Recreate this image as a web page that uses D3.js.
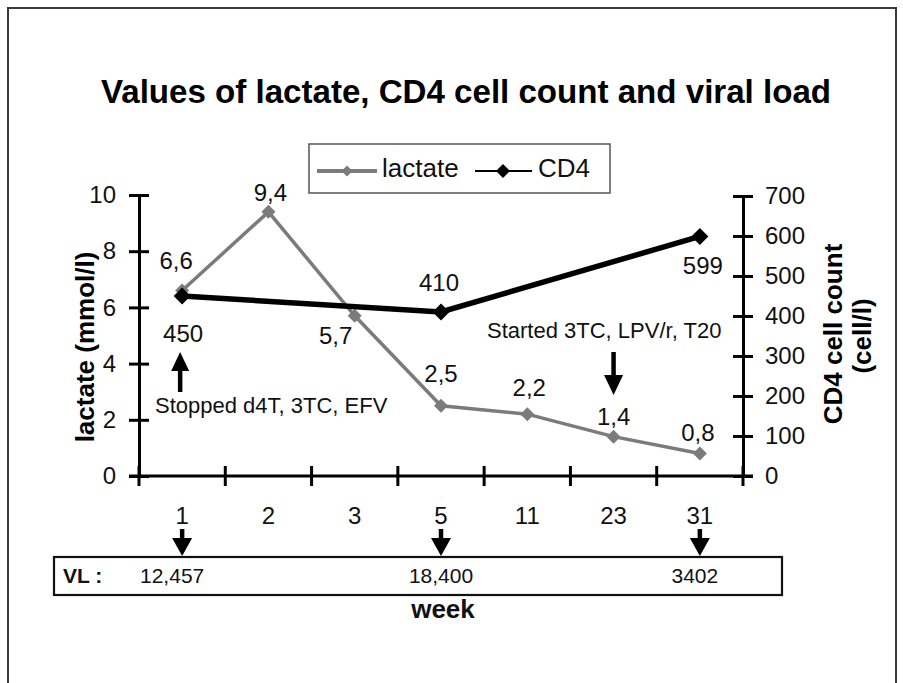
<!DOCTYPE html>
<html><head><meta charset="utf-8">
<script src="https://cdn.jsdelivr.net/npm/d3@7"></script>
<style>html,body{margin:0;padding:0;background:#fff}svg{display:block}text{font-family:"Liberation Sans",Arial,sans-serif}</style>
</head><body>
<script>
// ---- data ----
const weeks = ["1","2","3","5","11","23","31"];
const lactate = [6.6, 9.4, 5.7, 2.5, 2.2, 1.4, 0.8];
const cd4 = [450, null, null, 410, null, null, 599];
const lactateTicks = [0,2,4,6,8,10];
const cd4Ticks = [0,100,200,300,400,500,600,700];
const vlWeeks = ["1","5","31"];
const vlValues = ["12,457","18,400","3402"];
const legendNames = ["lactate","CD4"];
const titleText = "Values of lactate, CD4 cell count and viral load";
const stopNote = "Stopped d4T, 3TC, EFV";
const startNote = "Started 3TC, LPV/r, T20";

// ---- layout (label offsets relative to points) ----
const lacLabelDx = [-6, 2, -19, 0, 2, 0, -2];
const lacLabelDy = [-30, -20, 20, -32, -27, -20, -21];
const cd4LabelDx = [1, 0, 0, -2, 0, 0, 3];
const cd4LabelDy = [37, 0, 0, -30, 0, 0, 29];

const W = 903, H = 683;
const GRAY = "#7b7b7b";
const fmt = d3.formatLocale({decimal:",", thousands:".", grouping:[3], currency:["",""]}).format(".1f");

const svg = d3.select("body").append("svg").attr("width", W).attr("height", H);
svg.append("rect").attr("x",8).attr("y",8).attr("width",888).attr("height",700)
  .attr("fill","#fff").attr("stroke","#3a3a3a").attr("stroke-width",2);

svg.append("text").attr("x",466).attr("y",103).attr("text-anchor","middle")
  .attr("font-size",34).attr("font-weight","bold")
  .attr("textLength",730).attr("lengthAdjust","spacingAndGlyphs").text(titleText);

const x = d3.scaleBand().domain(weeks).range([139, 743]).padding(0);
const cx = w => x(w) + x.bandwidth()/2;
const yL = d3.scaleLinear().domain([0,10]).range([476,195]);
const yR = d3.scaleLinear().domain([0,700]).range([476,196]);

// left axis
const gL = svg.append("g").attr("transform","translate(139,0)")
  .call(d3.axisLeft(yL).tickValues(lactateTicks).tickSize(10).tickSizeOuter(0).tickPadding(13));
gL.select(".domain").attr("stroke","#000").attr("stroke-width",3);
gL.selectAll(".tick line").attr("x1",-10).attr("x2",10).attr("stroke","#000").attr("stroke-width",3);
gL.selectAll(".tick text").attr("font-size",24).attr("font-family","Liberation Sans, Arial, sans-serif").attr("fill","#111");

// right axis
const gR = svg.append("g").attr("transform","translate(743,0)")
  .call(d3.axisRight(yR).tickValues(cd4Ticks).tickSize(10).tickSizeOuter(0).tickPadding(12));
gR.select(".domain").attr("stroke","#000").attr("stroke-width",3);
gR.selectAll(".tick line").attr("x1",-10).attr("x2",10).attr("stroke","#000").attr("stroke-width",3);
gR.selectAll(".tick text").attr("font-size",24).attr("font-family","Liberation Sans, Arial, sans-serif").attr("fill","#111");

// x axis line and ticks at band boundaries
svg.append("line").attr("x1",129).attr("x2",753).attr("y1",yL(0)).attr("y2",yL(0))
  .attr("stroke","#000").attr("stroke-width",3);
const bounds = weeks.map(w => x(w)).concat([x.range()[1]]);
svg.selectAll(".xt").data(bounds).enter().append("line")
  .attr("x1",d=>d).attr("x2",d=>d).attr("y1",yL(0)-10).attr("y2",yL(0)+10)
  .attr("stroke","#000").attr("stroke-width",3);
svg.selectAll(".xl").data(weeks).enter().append("text")
  .attr("x",d=>cx(d)).attr("y",524).attr("text-anchor","middle").attr("font-size",24).attr("fill","#111").text(d=>d);

// axis titles
svg.append("text").attr("transform","translate(94,347) rotate(-90)").attr("text-anchor","middle")
  .attr("font-size",26).attr("font-weight","bold").text("lactate (mmol/l)");
svg.append("text").attr("transform","translate(842,334) rotate(-90)").attr("text-anchor","middle")
  .attr("font-size",26).attr("font-weight","bold").text("CD4 cell count");
svg.append("text").attr("transform","translate(871,336) rotate(-90)").attr("text-anchor","middle")
  .attr("font-size",26).attr("font-weight","bold").text("(cell/l)");

// diamonds
const diamond = r => `M0,${-r}L${r},0L0,${r}L${-r},0Z`;

// lactate series
const lacData = weeks.map((w,i)=>({w, v: lactate[i], i}));
svg.append("path").datum(lacData)
  .attr("d", d3.line().x(d=>cx(d.w)).y(d=>yL(d.v)))
  .attr("fill","none").attr("stroke",GRAY).attr("stroke-width",3.5);
svg.selectAll(".lm").data(lacData).enter().append("path")
  .attr("transform",d=>`translate(${cx(d.w)},${yL(d.v)})`).attr("d",diamond(7)).attr("fill",GRAY);

// CD4 series
const cdData = weeks.map((w,i)=>({w, v: cd4[i], i})).filter(d=>d.v!=null);
svg.append("path").datum(cdData)
  .attr("d", d3.line().x(d=>cx(d.w)).y(d=>yR(d.v)))
  .attr("fill","none").attr("stroke","#000").attr("stroke-width",5.5);
svg.selectAll(".cm").data(cdData).enter().append("path")
  .attr("transform",d=>`translate(${cx(d.w)},${yR(d.v)})`).attr("d",diamond(8.5)).attr("fill","#000");

// data labels
svg.selectAll(".ll").data(lacData).enter().append("text")
  .attr("x",d=>cx(d.w)+lacLabelDx[d.i]).attr("y",d=>yL(d.v)+lacLabelDy[d.i]).attr("dy","0.36em")
  .attr("text-anchor","middle").attr("font-size",24).attr("fill","#111").text(d=>fmt(d.v));
svg.selectAll(".cl").data(cdData).enter().append("text")
  .attr("x",d=>cx(d.w)+cd4LabelDx[d.i]).attr("y",d=>yR(d.v)+cd4LabelDy[d.i]).attr("dy","0.36em")
  .attr("text-anchor","middle").attr("font-size",24).attr("fill","#111").text(d=>d.v);

// arrows
function arrow(xc, yTail, yTip, headLen, halfW, shaft){
  const dir = yTip > yTail ? 1 : -1;
  const yb = yTip - dir*headLen;
  svg.append("line").attr("x1",xc).attr("x2",xc).attr("y1",yTail).attr("y2",yb)
    .attr("stroke","#000").attr("stroke-width",shaft);
  svg.append("path").attr("d",`M${xc},${yTip}L${xc-halfW},${yb}L${xc+halfW},${yb}Z`).attr("fill","#000");
}
arrow(cx(weeks[0])-2, 392, 352, 19, 9, 4.5);
svg.append("text").attr("x",155).attr("y",405).attr("dy","0.36em").attr("font-size",22).attr("fill","#111").text(stopNote);
arrow(cx(weeks[5]), 352, 395, 20, 9.5, 4.5);
svg.append("text").attr("x",487).attr("y",330).attr("dy","0.36em").attr("font-size",22).attr("fill","#111").text(startNote);

// legend
const lg = svg.append("g");
lg.append("rect").attr("x",309).attr("y",144).attr("width",301).attr("height",49)
  .attr("fill","#fff").attr("stroke","#555").attr("stroke-width",1.5);
lg.append("line").attr("x1",317).attr("x2",377).attr("y1",171).attr("y2",171).attr("stroke",GRAY).attr("stroke-width",4);
lg.append("path").attr("transform","translate(347,171)").attr("d",diamond(5.5)).attr("fill",GRAY);
lg.append("text").attr("x",382).attr("y",177).attr("font-size",26).attr("fill","#111").text(legendNames[0]);
lg.append("line").attr("x1",475).attr("x2",532).attr("y1",171).attr("y2",171).attr("stroke","#000").attr("stroke-width",2);
lg.append("path").attr("transform","translate(503,171)").attr("d",diamond(7)).attr("fill","#000");
lg.append("text").attr("x",538).attr("y",177).attr("font-size",26).attr("fill","#111").text(legendNames[1]);

// viral load box
svg.append("rect").attr("x",54).attr("y",557).attr("width",728).attr("height",38)
  .attr("fill","#fff").attr("stroke","#111").attr("stroke-width",2.2);
svg.append("text").attr("x",63).attr("y",583).attr("font-size",21).attr("font-weight","bold").attr("fill","#111").text("VL :");
vlWeeks.forEach((w,i)=>{
  arrow(cx(w), 529, 556, 18, 10, 4.5);
  svg.append("text").attr("x",cx(w) - (i===0?10:(i===2?5:0))).attr("y",583).attr("text-anchor","middle")
    .attr("font-size",21).attr("fill","#111").text(vlValues[i]);
});
svg.append("text").attr("x",443).attr("y",618).attr("text-anchor","middle")
  .attr("font-size",26).attr("font-weight","bold").attr("fill","#111").text("week");
</script>
</body></html>
